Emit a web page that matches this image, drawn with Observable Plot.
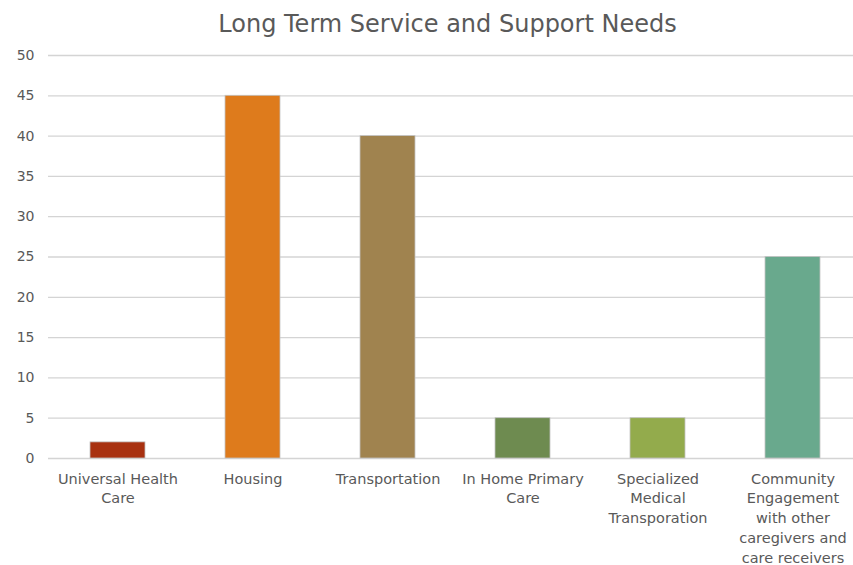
<!DOCTYPE html>
<html>
<head>
<meta charset="utf-8">
<script src="https://cdn.jsdelivr.net/npm/d3@7"></script>
<script src="https://cdn.jsdelivr.net/npm/@observablehq/plot@0.6"></script>
<style>
  html, body { margin: 0; padding: 0; background: #fff; }
  #wrap { width: 853px; height: 565px; overflow: hidden; font-family: "DejaVu Sans", sans-serif; }
  #title { height: 44px; box-sizing: border-box; padding-left: 42px; padding-top: 10px; text-align: center; font-size: 24px; color: #595959; line-height: 28px; }
</style>
</head>
<body>
<div id="wrap">
  <div id="title">Long Term Service and Support Needs</div>
  <div id="chart"></div>
</div>
<script>
const categories = ["Universal Health Care", "Housing", "Transportation", "In Home Primary Care", "Specialized Medical Transporation", "Community Engagement with other caregivers and care receivers"];
const values = [2, 45, 40, 5, 5, 25];
const tickLabels = ["Universal Health\nCare", "Housing", "Transportation", "In Home Primary\nCare", "Specialized\nMedical\nTransporation", "Community\nEngagement\nwith other\ncaregivers and\ncare receivers"];
const barColors = ["#A83110", "#DE7B1C", "#A0834F", "#6E8B50", "#93AB4C", "#69A98D"];
const yTicks = [0, 5, 10, 15, 20, 25, 30, 35, 40, 45, 50];

const data = categories.map((c, i) => ({category: c, value: values[i]}));
const labelOf = new Map(categories.map((c, i) => [c, tickLabels[i]]));

const chart = Plot.plot({
  width: 853,
  height: 521,
  marginLeft: 48,
  marginRight: 0,
  marginTop: 11,
  marginBottom: 107,
  style: {fontFamily: "DejaVu Sans, sans-serif", color: "#595959", background: "#fff"},
  x: {domain: categories, range: [48, 861], paddingInner: 0.594, paddingOuter: 0.297, label: null},
  y: {domain: [0, 50], label: null},
  color: {domain: categories, range: barColors},
  marks: [
    Plot.ruleY(yTicks, {stroke: "#d4d4d4", strokeWidth: 1.3}),
    Plot.barY(data, {x: "category", y: "value", fill: "category", stroke: "#c4c4c4", strokeWidth: 0.8}),
    Plot.axisY({ticks: yTicks, tickSize: 0, tickPadding: 14, fontSize: 14, fill: "#595959", label: null}),
    Plot.axisX({tickSize: 0, tickPadding: 11, fontSize: 14.5, lineHeight: 1.37, fill: "#595959", label: null, tickFormat: d => labelOf.get(d)})
  ]
});
document.getElementById("chart").appendChild(chart);
</script>
</body>
</html>
